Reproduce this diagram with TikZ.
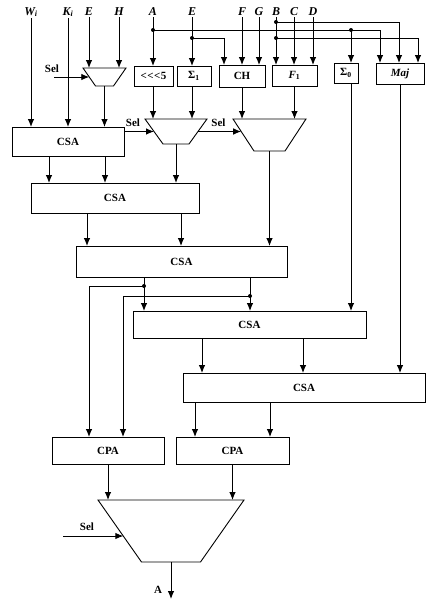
\documentclass[tikz,border=0pt]{standalone}
\usepackage{fontspec}
\setmainfont{Liberation Serif}
\usetikzlibrary{arrows.meta,calc}
\begin{document}
\begin{tikzpicture}[x=1pt,y=-1pt,
  font=\fontsize{11}{12}\selectfont\bfseries,
  blk/.style={draw, line width=0.9pt, inner sep=0pt, outer sep=0pt},
  muxbox/.style={draw=none, inner sep=0pt, outer sep=0pt},
  muxline/.style={line width=0.9pt, line join=miter},
  arr/.style={line width=0.9pt, -{Latex[length=8pt,width=6.5pt]}},
  wire/.style={line width=0.9pt},
  dot/.style={circle, fill, inner sep=0pt, minimum size=4pt},
  lab/.style={inner sep=1pt},
  toplab/.style={inner sep=1pt, font=\fontsize{12}{13}\selectfont\bfseries\itshape}]
\useasboundingbox (0,0) rectangle (438,605);

% top labels
\node[toplab] (lW) at (31,12) {W\textsubscript{i}};
\node[toplab] (lK) at (68,12) {K\textsubscript{i}};
\node[toplab] (lE1) at (89,12) {E};
\node[toplab] (lH) at (119,12) {H};
\node[toplab] (lA) at (153,12) {A};
\node[toplab] (lE2) at (192,12) {E};
\node[toplab] (lF) at (242,12) {F};
\node[toplab] (lG) at (259,12) {G};
\node[toplab] (lB) at (276,12) {B};
\node[toplab] (lC) at (294,12) {C};
\node[toplab] (lD) at (313,12) {D};

% function boxes
\node[blk, minimum width=39pt, minimum height=20pt] (rot) at (153.5,76) {<\kern0.5pt<\kern0.5pt<\kern0.5pt5};
\node[blk, minimum width=34pt, minimum height=20pt] (s1) at (194,76) {Σ\textsubscript{1}};
\node[blk, minimum width=46pt, minimum height=22pt] (ch) at (242,76) {CH};
\node[blk, minimum width=45pt, minimum height=21pt] (f1) at (294.5,75.5) {\textit{F}\textsubscript{1}};
\node[blk, minimum width=24pt, minimum height=20pt] (s0) at (346,73) {Σ\textsubscript{0}};
\node[blk, minimum width=48pt, minimum height=21pt] (maj) at (400,73.5) {\textit{Maj}};

% muxes (bounding boxes, outlines drawn as trapezoids)
\node[muxbox, minimum width=43pt, minimum height=18pt] (m1) at (104.5,77) {};
\node[muxbox, minimum width=62pt, minimum height=25pt] (m2) at (176,131.5) {};
\node[muxbox, minimum width=73pt, minimum height=32pt] (m3) at (269.5,135) {};
\node[muxbox, minimum width=146pt, minimum height=62pt] (m4) at (171,531) {};
\draw[muxline] (m1.north west) -- (m1.north east) -- ($(m1.south east)+(-12.5,0)$) -- ($(m1.south west)+(12.5,0)$) -- cycle;
\draw[muxline] (m2.north west) -- (m2.north east) -- ($(m2.south east)+(-18,0)$) -- ($(m2.south west)+(18,0)$) -- cycle;
\draw[muxline] (m3.north west) -- (m3.north east) -- ($(m3.south east)+(-21,0)$) -- ($(m3.south west)+(21,0)$) -- cycle;
\draw[muxline] (m4.north west) -- (m4.north east) -- ($(m4.south east)+(-43.5,0)$) -- ($(m4.south west)+(43.5,0)$) -- cycle;

% adders
\node[blk, minimum width=112pt, minimum height=29pt] (csa1) at (68,141.5) {CSA};
\node[blk, minimum width=168pt, minimum height=30pt] (csa2) at (115,198) {CSA};
\node[blk, minimum width=211pt, minimum height=31pt] (csa3) at (181.5,261.5) {CSA};
\node[blk, minimum width=233pt, minimum height=27pt] (csa4) at (249.5,324.5) {CSA};
\node[blk, minimum width=242pt, minimum height=29pt] (csa5) at (304,387.5) {CSA};
\node[blk, minimum width=112pt, minimum height=27pt] (cpa1) at (108,450.5) {CPA};
\node[blk, minimum width=113pt, minimum height=27pt] (cpa2) at (232.5,450.5) {CPA};

% dots
\node[dot] (dA) at (153,30) {};
\node[dot] (dA2) at (351,30) {};
\node[dot] (dE) at (192,38) {};
\node[dot] (dB1) at (276,22) {};
\node[dot] (dB2) at (276,38) {};
\node[dot] (dC1) at (144,286) {};
\node[dot] (dC2) at (250,296) {};

% sel labels
\node[lab] (tsel1) at (52,69) {Sel};
\node[lab] (tsel2) at (133,123) {Sel};
\node[lab] (tsel3) at (218.5,123) {Sel};
\node[lab] (tsel4) at (87,527) {Sel};
\node[lab] (tA) at (158,590) {A};
\coordinate (sel1) at (54,77);
\coordinate (sel4) at (63,536);
\coordinate (outA) at (171,599);

% input wires
\draw[arr] (lW.south) -- (lW.south |- csa1.north);
\draw[arr] (lK.south) -- (lK.south |- csa1.north);
\draw[arr] (lE1.south) -- (lE1.south |- m1.north);
\draw[arr] (lH.south) -- (lH.south |- m1.north);
\draw[arr] (lA.south) -- (lA.south |- rot.north);
\draw[arr] (lE2.south) -- (lE2.south |- s1.north);
\draw[arr] (lF.south) -- (lF.south |- ch.north);
\draw[arr] (lG.south) -- (lG.south |- ch.north);
\draw[arr] (lB.south) -- (lB.south |- f1.north);
\draw[arr] (lC.south) -- (lC.south |- f1.north);
\draw[arr] (lD.south) -- (lD.south |- f1.north);

\draw[arr] (dA.center) -| ($(maj.north west)+(4,0)$);
\draw[arr] (dA2.center) -- (dA2.center |- s0.north);
\draw[arr] (dE.center) -| ($(ch.north west)+(5,0)$);
\draw[arr] (dB1.center) -| ($(maj.north west)+(23,0)$);
\draw[arr] (dB2.center) -| ($(maj.north east)+(-6,0)$);

% function outputs
\draw[arr] (m1.south) -- (m1.south |- csa1.north);
\draw[arr] (rot.south -| lA) -- (lA |- m2.north);
\draw[arr] (s1.south -| dE) -- (dE |- m2.north);
\draw[arr] (ch.south) -- (ch.south |- m3.north);
\draw[arr] (f1.south) -- (f1.south |- m3.north);
\draw[arr] (s0.south -| dA2) -- (dA2 |- csa4.north);
\draw[arr] (maj.south) -- (maj.south |- csa5.north);

% selects
\draw[arr] (sel1) -- ($(m1.west)+(6.25,0)$);
\draw[arr] (m2.west -| csa1.east) -- ($(m2.west)+(9,0)$);
\draw[arr] ($(m2.east)+(-9,0)$) -- ($(m2.east -| m3.west)+(8.2,0)$);
\draw[arr] (sel4) -- ($(m4.west)+(25.3,5)$);

% mux outputs
\draw[arr] (m2.south) -- (m2.south |- csa2.north);
\draw[arr] (m3.south) -- (m3.south |- csa3.north);

% csa chain
\draw[arr] (49,0 |- csa1.south) -- (49,0 |- csa2.north);
\draw[arr] (105,0 |- csa1.south) -- (105,0 |- csa2.north);
\draw[arr] (87,0 |- csa2.south) -- (87,0 |- csa3.north);
\draw[arr] (181,0 |- csa2.south) -- (181,0 |- csa3.north);
\draw[arr] (dC1 |- csa3.south) -- (dC1 |- csa4.north);
\draw[arr] (dC2 |- csa3.south) -- (dC2 |- csa4.north);
\draw[arr] (dC1.center) -| (89,0 |- cpa1.north);
\draw[arr] (dC2.center) -| (123,0 |- cpa1.north);
\draw[arr] (202,0 |- csa4.south) -- (202,0 |- csa5.north);
\draw[arr] (303,0 |- csa4.south) -- (303,0 |- csa5.north);
\draw[arr] (195,0 |- csa5.south) -- (195,0 |- cpa2.north);
\draw[arr] (270,0 |- csa5.south) -- (270,0 |- cpa2.north);

% final
\draw[arr] (cpa1.south) -- (cpa1.south |- m4.north);
\draw[arr] (cpa2.south) -- (cpa2.south |- m4.north);
\draw[arr] (m4.south) -- (outA);
\end{tikzpicture}
\end{document}
